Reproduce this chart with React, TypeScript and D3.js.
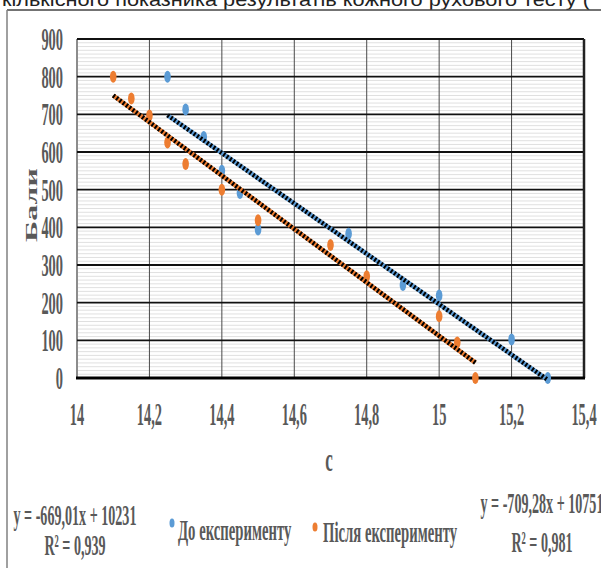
import React from 'react';
import * as d3 from 'd3';

// ticks
const xTicks = [14, 14.2, 14.4, 14.6, 14.8, 15, 15.2, 15.4];
const yTicks = [0, 100, 200, 300, 400, 500, 600, 700, 800, 900];

// До експерименту
const beforeX = [14.25, 14.3, 14.35, 14.4, 14.45, 14.5, 14.75, 14.9, 15.0, 15.2, 15.3];
const beforeY = [800, 713, 640, 550, 491, 394, 383, 247, 219, 102, 0];

// Після експерименту
const afterX = [14.1, 14.15, 14.2, 14.25, 14.3, 14.4, 14.5, 14.7, 14.8, 15.0, 15.05, 15.1];
const afterY = [800, 742, 697, 625, 568, 500, 419, 353, 270, 164, 94, 0];

const seriesNames = ['До експерименту', 'Після експерименту'];
const trendSlopes = [-669.01, -709.28];
const trendIntercepts = [10231, 10751];
const trendLabels = ['y = -669,01x + 10231', 'y = -709,28x + 10751'];
const r2Labels = ['R² = 0,939', 'R² = 0,981'];
const topCaption = 'кількісного показника результатів кожного рухового тесту (';

const BLUE = '#5B9BD5';
const ORANGE = '#ED7D31';
const GREY = '#595959';
const SERIF = '"Liberation Serif", "Times New Roman", serif';

const fmt = (v: number) => String(v).replace('.', ',');

const SText: React.FC<{ x: number; y: number; sx?: number; size: number; anchor?: string; bold?: boolean; fill?: string; children: React.ReactNode }> = ({ x, y, sx = 0.5, size, anchor = 'start', bold = false, fill = GREY, children }) => (
  <text
    transform={`translate(${x},${y}) scale(${sx},1)`}
    textAnchor={anchor}
    fontFamily={SERIF}
    fontSize={size}
    fontWeight={bold ? 'bold' : 'normal'}
    fill={fill}
  >
    {children}
  </text>
);

export default function App() {
  const width = 601;
  const height = 568;

  const x = d3.scaleLinear().domain([14, 15.4]).range([77, 584]);
  const y = d3.scaleLinear().domain([0, 900]).range([378, 39]);

  const minorTicks = d3.range(0, 900, 10).filter((v) => v % 100 !== 0);

  const series = [
    { xs: beforeX, ys: beforeY, color: BLUE },
    { xs: afterX, ys: afterY, color: ORANGE },
  ];

  const trendLine = (i: number) => {
    const xs = series[i].xs;
    const [x0, x1] = d3.extent(xs) as [number, number];
    const pts: [number, number][] = [x0, x1].map((v) => [x(v), y(trendSlopes[i] * v + trendIntercepts[i])]);
    return d3.line()(pts) as string;
  };

  return (
    <svg width={width} height={height} style={{ position: 'absolute', left: 0, top: 0, background: '#fff' }}>
      {/* caption cut off at top */}
      <text x={2} y={6} fontFamily='"Liberation Sans", Arial, sans-serif' fontSize={19} fill="#222" textLength={588} lengthAdjust="spacingAndGlyphs">
        {topCaption}
      </text>

      {/* outer chart frame */}
      <line x1={7} x2={601} y1={10} y2={10} stroke="#444" strokeWidth={1.5} />
      <line x1={7} x2={7} y1={10} y2={568} stroke="#808080" strokeWidth={1.5} />

      {/* minor horizontal grid */}
      {minorTicks.map((v) => (
        <line key={'m' + v} x1={x(14)} x2={x(15.4)} y1={y(v)} y2={y(v)} stroke="#e0e0e0" strokeWidth={1} />
      ))}

      {/* vertical grid */}
      {xTicks.slice(1, -1).map((v) => (
        <line key={'v' + v} x1={x(v)} x2={x(v)} y1={y(900)} y2={y(0)} stroke="#4a4a4a" strokeWidth={1} />
      ))}
      <line x1={x(14)} x2={x(14)} y1={y(900)} y2={y(0)} stroke="#8c8c8c" strokeWidth={2} />

      {/* major horizontal grid */}
      {yTicks.slice(1).map((v) => (
        <line key={'h' + v} x1={x(14)} x2={x(15.4)} y1={y(v)} y2={y(v)} stroke="#111" strokeWidth={v === 900 ? 2.2 : 1.8} />
      ))}
      <line x1={x(15.4)} x2={x(15.4)} y1={y(900)} y2={y(0)} stroke="#222" strokeWidth={2.5} />
      <line x1={x(14) - 1} x2={x(15.4) + 1} y1={y(0)} y2={y(0)} stroke="#000" strokeWidth={3} />

      {/* points */}
      {series.map((s, i) =>
        s.xs.map((v, j) => (
          <ellipse key={`p${i}-${j}`} cx={x(v)} cy={y(s.ys[j])} rx={3.3} ry={6} fill={s.color} />
        ))
      )}

      {/* trend lines */}
      {series.map((s, i) => (
        <g key={'t' + i}>
          <path d={trendLine(i)} stroke={s.color} strokeWidth={4.5} fill="none" />
          <path d={trendLine(i)} stroke="#000" strokeWidth={4.5} strokeDasharray="2 2" fill="none" />
        </g>
      ))}

      {/* y tick labels */}
      {yTicks.map((v) => (
        <SText key={'yl' + v} x={63} y={y(v) + 11} size={32} sx={0.45} anchor="end" bold>
          {v}
        </SText>
      ))}

      {/* x tick labels */}
      {xTicks.map((v) => (
        <SText key={'xl' + v} x={x(v)} y={425} size={32} sx={0.45} anchor="middle" bold>
          {fmt(v)}
        </SText>
      ))}

      {/* axis titles */}
      <text
        transform={`translate(37,205) scale(0.55,1) rotate(-90)`}
        textAnchor="middle"
        fontFamily={SERIF}
        fontSize={32}
        fontWeight="bold"
        fill={GREY}
      >
        Бали
      </text>
      <SText x={329} y={471} size={34} sx={0.5} anchor="middle" bold>
        c
      </SText>

      {/* trend equations */}
      <SText x={75} y={525} size={30} sx={0.47} anchor="middle" bold>{trendLabels[0]}</SText>
      <SText x={75} y={555} size={30} sx={0.47} anchor="middle" bold>{r2Labels[0]}</SText>
      <SText x={542} y={513} size={30} sx={0.47} anchor="middle" bold>{trendLabels[1]}</SText>
      <SText x={542} y={552} size={30} sx={0.47} anchor="middle" bold>{r2Labels[1]}</SText>

      {/* legend */}
      <ellipse cx={172} cy={523} rx={2.5} ry={4.5} fill={BLUE} />
      <SText x={178} y={540} size={30} sx={0.49} bold>{seriesNames[0]}</SText>
      <ellipse cx={315} cy={527} rx={2.5} ry={4.5} fill={ORANGE} />
      <SText x={323} y={542} size={30} sx={0.49} bold>{seriesNames[1]}</SText>
    </svg>
  );
}
